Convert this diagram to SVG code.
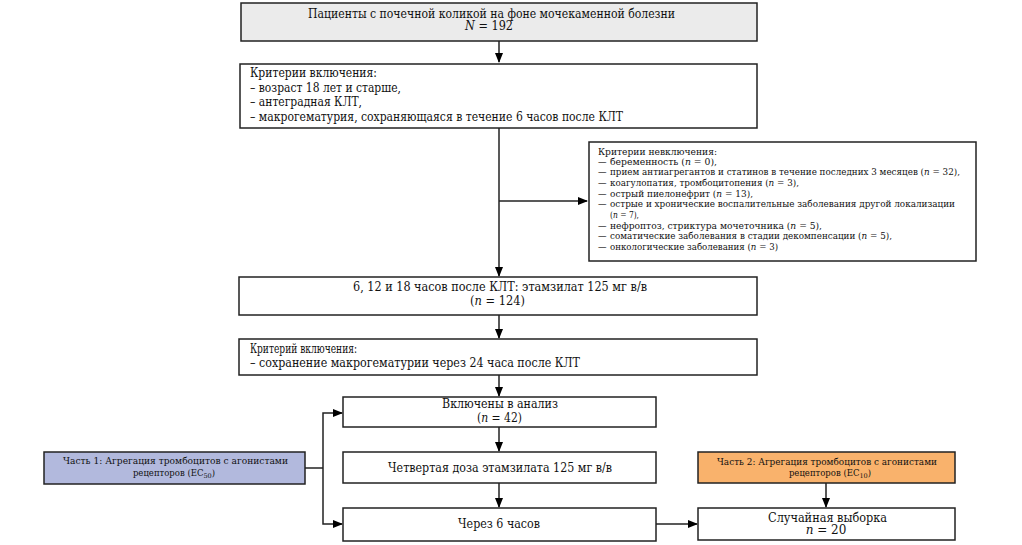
<svg xmlns="http://www.w3.org/2000/svg" width="1022" height="545" viewBox="0 0 1022 545">
<defs>
<marker id="ah" markerWidth="10" markerHeight="8" refX="9" refY="4" orient="auto" markerUnits="userSpaceOnUse">
<path d="M0,0 L10,4 L0,8 Z" fill="#000"/>
</marker>
<style>
.box{fill:#fff;stroke:#222;stroke-width:1.5}
.t{font-family:"DejaVu Serif","Liberation Serif",serif;font-size:12px;fill:#111}
.s{font-family:"DejaVu Serif","Liberation Serif",serif;font-size:8.5px;fill:#111}
.c{text-anchor:middle}
.ln{fill:none;stroke:#222;stroke-width:1.5}
</style>
</defs>
<rect width="1022" height="545" fill="#fff"/>
<g id="connectors">
<path class="ln" d="M499,41 V62" marker-end="url(#ah)"/>
<path class="ln" d="M499,128 V276" marker-end="url(#ah)"/>
<path class="ln" d="M499,201 H587" marker-end="url(#ah)"/>
<path class="ln" d="M499,315 V338" marker-end="url(#ah)"/>
<path class="ln" d="M499,375 V396" marker-end="url(#ah)"/>
<path class="ln" d="M499,427 V451" marker-end="url(#ah)"/>
<path class="ln" d="M499,483 V507" marker-end="url(#ah)"/>
<path class="ln" d="M305,468 H323"/>
<path class="ln" d="M323,468 V524 H342" marker-end="url(#ah)"/>
<path class="ln" d="M323,468 V413 H342" marker-end="url(#ah)"/>
<path class="ln" d="M656,524 H697" marker-end="url(#ah)"/>
<path class="ln" d="M826,483 V507" marker-end="url(#ah)"/>
</g>
<g id="patients">
<rect class="box" x="241" y="3" width="516" height="38" style="fill:#ebebeb"/>
<text class="t c" x="491.5" y="18" textLength="367" lengthAdjust="spacingAndGlyphs">Пациенты с почечной коликой на фоне мочекаменной болезни</text>
<text class="t c" x="489" y="30" textLength="48" lengthAdjust="spacingAndGlyphs"><tspan font-style="italic">N</tspan> = 192</text>
</g>
<g id="inclusion1">
<rect class="box" x="240" y="64" width="517" height="64"/>
<text class="t" x="250" y="77" textLength="127" lengthAdjust="spacingAndGlyphs">Критерии включения:</text>
<text class="t" x="250" y="92" textLength="151" lengthAdjust="spacingAndGlyphs">– возраст 18 лет и старше,</text>
<text class="t" x="250" y="106" textLength="112" lengthAdjust="spacingAndGlyphs">– антеградная КЛТ,</text>
<text class="t" x="250" y="121" textLength="373" lengthAdjust="spacingAndGlyphs">– макрогематурия, сохраняющаяся в течение 6 часов после КЛТ</text>
</g>
<g id="exclusion">
<rect class="box" x="589" y="142" width="387" height="119"/>
<text class="s" x="598" y="155" textLength="119" lengthAdjust="spacingAndGlyphs">Критерии невключения:</text>
<text class="s" x="598" y="165">—</text>
<text class="s" x="598" y="175">—</text>
<text class="s" x="598" y="186">—</text>
<text class="s" x="598" y="197">—</text>
<text class="s" x="598" y="207">—</text>
<text class="s" x="598" y="229">—</text>
<text class="s" x="598" y="239">—</text>
<text class="s" x="598" y="250">—</text>
<text class="s" x="610" y="165" textLength="107" lengthAdjust="spacingAndGlyphs">беременность (<tspan font-style="italic">n</tspan> = 0),</text>
<text class="s" x="610" y="175" textLength="350" lengthAdjust="spacingAndGlyphs">прием антиагрегантов и статинов в течение последних 3 месяцев (<tspan font-style="italic">n</tspan> = 32),</text>
<text class="s" x="610" y="186" textLength="189" lengthAdjust="spacingAndGlyphs">коагулопатия, тромбоцитопения (<tspan font-style="italic">n</tspan> = 3),</text>
<text class="s" x="610" y="197" textLength="143" lengthAdjust="spacingAndGlyphs">острый пиелонефрит (<tspan font-style="italic">n</tspan> = 13),</text>
<text class="s" x="610" y="207" textLength="345" lengthAdjust="spacingAndGlyphs">острые и хронические воспалительные заболевания другой локализации</text>
<text class="s" x="610" y="218" textLength="29" lengthAdjust="spacingAndGlyphs">(<tspan font-style="italic">n</tspan> = 7),</text>
<text class="s" x="610" y="229" textLength="212" lengthAdjust="spacingAndGlyphs">нефроптоз, стриктура мочеточника (<tspan font-style="italic">n</tspan> = 5),</text>
<text class="s" x="610" y="239" textLength="282" lengthAdjust="spacingAndGlyphs">соматические заболевания в стадии декомпенсации (<tspan font-style="italic">n</tspan> = 5),</text>
<text class="s" x="610" y="250" textLength="168" lengthAdjust="spacingAndGlyphs">онкологические заболевания (<tspan font-style="italic">n</tspan> = 3)</text>
</g>
<g id="etamsylate">
<rect class="box" x="239" y="277" width="518" height="38"/>
<text class="t c" x="500" y="291" textLength="294" lengthAdjust="spacingAndGlyphs">6, 12 и 18 часов после КЛТ: этамзилат 125 мг в/в</text>
<text class="t c" x="497.5" y="305" textLength="55" lengthAdjust="spacingAndGlyphs">(<tspan font-style="italic">n</tspan> = 124)</text>
</g>
<g id="inclusion2">
<rect class="box" x="239" y="339" width="518" height="36"/>
<text class="t" x="250" y="353" textLength="107" lengthAdjust="spacingAndGlyphs">Критерий включения:</text>
<text class="t" x="250" y="367" textLength="330" lengthAdjust="spacingAndGlyphs">– сохранение макрогематурии через 24 часа после КЛТ</text>
</g>
<g id="analysis">
<rect class="box" x="343" y="397" width="313" height="30"/>
<text class="t c" x="500" y="408" textLength="116" lengthAdjust="spacingAndGlyphs">Включены в анализ</text>
<text class="t c" x="499.5" y="422" textLength="45" lengthAdjust="spacingAndGlyphs">(<tspan font-style="italic">n</tspan> = 42)</text>
</g>
<g id="dose4">
<rect class="box" x="343" y="452" width="313" height="31"/>
<text class="t c" x="500" y="472" textLength="224" lengthAdjust="spacingAndGlyphs">Четвертая доза этамзилата 125 мг в/в</text>
</g>
<g id="after6">
<rect class="box" x="343" y="508" width="313" height="33"/>
<text class="t c" x="499" y="528" textLength="82" lengthAdjust="spacingAndGlyphs">Через 6 часов</text>
</g>
<g id="part1">
<rect class="box" x="44" y="452" width="261" height="32" style="fill:#b2b9dd"/>
<text class="s c" x="175.5" y="464" textLength="225" lengthAdjust="spacingAndGlyphs">Часть 1: Агрегация тромбоцитов с агонистами</text>
<text class="s c" x="174" y="476">рецепторов (EC<tspan font-size="6.5px" dy="2">50</tspan><tspan dy="-2">)</tspan></text>
</g>
<g id="part2">
<rect class="box" x="698" y="452" width="257" height="31" style="fill:#f9b26c"/>
<text class="s c" x="827" y="465" textLength="220" lengthAdjust="spacingAndGlyphs">Часть 2: Агрегация тромбоцитов с агонистами</text>
<text class="s c" x="830" y="476">рецепторов (EC<tspan font-size="6.5px" dy="2">10</tspan><tspan dy="-2">)</tspan></text>
</g>
<g id="random">
<rect class="box" x="698" y="508" width="257" height="32"/>
<text class="t c" x="827.5" y="522" textLength="119" lengthAdjust="spacingAndGlyphs">Случайная выборка</text>
<text class="t c" x="826" y="534"><tspan font-style="italic">n</tspan> = 20</text>
</g>
</svg>
